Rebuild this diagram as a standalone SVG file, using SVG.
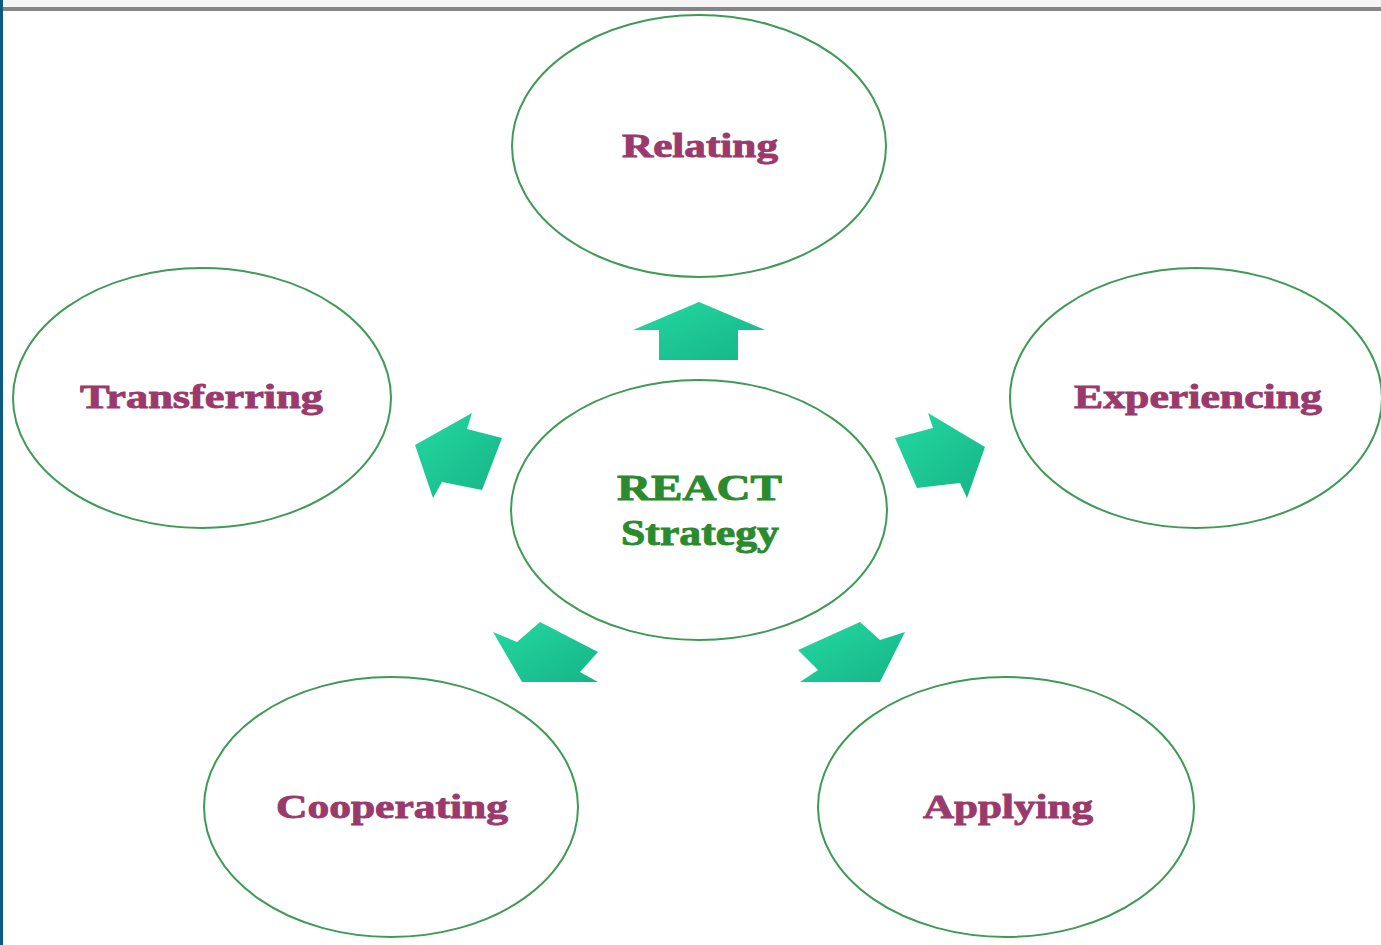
<svg xmlns="http://www.w3.org/2000/svg" width="1381" height="945" viewBox="0 0 1381 945">
  <style>
    .node { fill: #ffffff; stroke: #3f9a55; stroke-width: 2; }
    .label { font-family: "Liberation Serif", "Times New Roman", serif; font-weight: bold; font-size: 34px; fill: #9a3a6c; stroke: #9a3a6c; stroke-width: 0.9; }
    .core { font-family: "Liberation Serif", "Times New Roman", serif; font-weight: bold; font-size: 35px; fill: #2b8a2e; stroke: #2b8a2e; stroke-width: 0.9; }
    .arrow { fill: url(#arrowFill); }
  </style>
  <defs>
    <linearGradient id="arrowFill" x1="0" y1="0" x2="1" y2="1">
      <stop offset="0" stop-color="#24d9a2"/>
      <stop offset="1" stop-color="#16b486"/>
    </linearGradient>
  </defs>

  <!-- page frame -->
  <rect x="0" y="0" width="1381" height="945" fill="#ffffff"/>
  <rect x="0" y="0" width="1381" height="7" fill="#f4f4f4"/>
  <rect x="0" y="7" width="1381" height="4" fill="#858585"/>
  <rect x="0" y="0" width="3" height="945" fill="#0b5a82"/>

  <!-- connectors: block arrows radiating from the centre -->
  <g id="connectors">
    <polygon class="arrow" points="699,302 765,330 738,330 738,360 659,360 659,330 633,330"/>
    <polygon class="arrow" points="415,445 472,413 467,429 502,438 482,490 442,482 433,498"/>
    <polygon class="arrow" points="985,447 928,413 933,428 895,438 917,488 960,483 967,498"/>
    <polygon class="arrow" points="493,632 517,642 540,622 598,652 580,672 598,682 522,682"/>
    <polygon class="arrow" points="798,650 860,622 880,640 905,632 880,682 800,682 818,670"/>
  </g>

  <g id="node-center">
    <ellipse class="node" cx="699" cy="510" rx="188" ry="130"/>
    <text class="core" x="617" y="500" textLength="165" lengthAdjust="spacingAndGlyphs">REACT</text>
    <text class="core" x="621" y="545" textLength="158" lengthAdjust="spacingAndGlyphs">Strategy</text>
  </g>

  <g id="node-relating">
    <ellipse class="node" cx="699" cy="146" rx="187" ry="131"/>
    <text class="label" x="622" y="157" textLength="156" lengthAdjust="spacingAndGlyphs">Relating</text>
  </g>

  <g id="node-transferring">
    <ellipse class="node" cx="202" cy="398" rx="189" ry="130"/>
    <text class="label" x="80" y="408" textLength="243" lengthAdjust="spacingAndGlyphs">Transferring</text>
  </g>

  <g id="node-experiencing">
    <ellipse class="node" cx="1196" cy="398" rx="186" ry="130"/>
    <text class="label" x="1074" y="408" textLength="248" lengthAdjust="spacingAndGlyphs">Experiencing</text>
  </g>

  <g id="node-cooperating">
    <ellipse class="node" cx="391" cy="807" rx="187" ry="130"/>
    <text class="label" x="276" y="818" textLength="232" lengthAdjust="spacingAndGlyphs">Cooperating</text>
  </g>

  <g id="node-applying">
    <ellipse class="node" cx="1006" cy="807" rx="188" ry="130"/>
    <text class="label" x="923" y="818" textLength="170" lengthAdjust="spacingAndGlyphs">Applying</text>
  </g>
</svg>
